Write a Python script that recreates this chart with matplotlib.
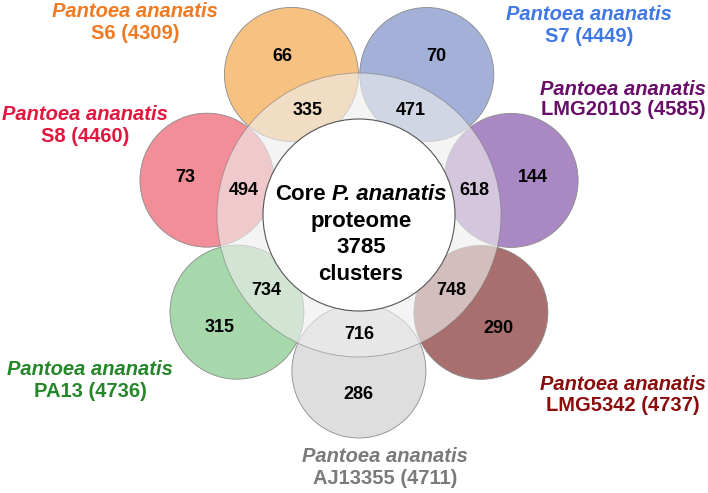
import numpy as np
import matplotlib
matplotlib.use("Agg")
import matplotlib.pyplot as plt
from matplotlib.patches import Circle

plt.rcParams['font.family'] = ['Liberation Sans', 'DejaVu Sans']

# strains, going round the flower clockwise from the left
strains    = ["S8", "S6", "S7", "LMG20103", "LMG5342", "AJ13355", "PA13"]
totals     = [4460, 4309, 4449, 4585, 4737, 4711, 4736]
unique     = [73, 66, 70, 144, 290, 286, 315]
shared     = [494, 335, 471, 618, 748, 716, 734]
core_count = 3785

petal_cols = ["#F28E97", "#F7C182", "#A3B1D8", "#AA88C4", "#A96E6E", "#DEDEDE", "#A6D8AB"]
label_cols = ["#E3173E", "#F07A22", "#3F78E6", "#6A0C6A", "#8A0D0D", "#7A7A7A", "#26862A"]

# label placement (x centre, baseline of first line, baseline of second line)
label_pos = [(85, 120, 142), (135, 17, 39), (589, 20, 42), (623, 95, 115),
             (623, 390, 411), (385, 462, 484), (90, 375, 397)]

cx, cy = 359, 215
ring_d = 156
petal_r = 67
angles = 167.1 - np.arange(7) * 360.0 / 7

fig = plt.figure(figsize=(7.08, 4.93), dpi=100)
ax = fig.add_axes([0, 0, 1, 1])
ax.set_xlim(0, 708)
ax.set_ylim(493, 0)
ax.set_aspect('equal')
ax.axis('off')

for i, a in enumerate(angles):
	rad = np.deg2rad(a)
	px = cx + ring_d * np.cos(rad)
	py = cy - ring_d * np.sin(rad)
	ax.add_patch(Circle((px, py), petal_r, facecolor=petal_cols[i], edgecolor="#8a8a8a", lw=0.6, zorder=1))

# outer ring washes out the petals, inner white core on top
ax.add_patch(Circle((cx, cy), 142, facecolor="#EEEEEE", alpha=0.62, edgecolor="#777777", lw=0.6, zorder=2))
ax.add_patch(Circle((cx, cy), 96, facecolor="white", edgecolor="#555555", lw=0.8, zorder=3))

num_fs = 13
cap = num_fs * 100 / 72 * 0.716
for i, a in enumerate(angles):
	rad = np.deg2rad(a)
	for dist, val in ((178, unique[i]), (118, shared[i])):
		tx = cx + dist * np.cos(rad)
		ty = cy - dist * np.sin(rad)
		ax.text(tx, ty + cap / 2, str(val), ha='center', va='baseline', fontsize=num_fs,
				fontweight='bold', color='black', zorder=5)

lab_fs = 14.5
for i, s in enumerate(strains):
	x, y1, y2 = label_pos[i]
	ax.text(x, y1, "Pantoea ananatis", ha='center', va='baseline', fontsize=lab_fs,
			fontweight='bold', fontstyle='italic', color=label_cols[i], zorder=5)
	ax.text(x, y2, s + " (" + str(totals[i]) + ")", ha='center', va='baseline', fontsize=lab_fs,
			fontweight='bold', color=label_cols[i], zorder=5)

# centre text, first line mixes upright and italic
core_fs = 16
fig.canvas.draw()
rend = fig.canvas.get_renderer()
t_core = ax.text(0, 200, "Core", ha='left', va='baseline', fontsize=core_fs, fontweight='bold', zorder=6)
t_pa = ax.text(0, 200, "P. ananatis", ha='left', va='baseline', fontsize=core_fs, fontweight='bold',
			   fontstyle='italic', zorder=6)
w_core = t_core.get_window_extent(rend).width
w_pa = t_pa.get_window_extent(rend).width
space = 0.278 * core_fs * 100 / 72
x0 = 361 - (w_core + space + w_pa) / 2
t_core.set_x(x0)
t_pa.set_x(x0 + w_core + space)

for y, line in zip([226.5, 253, 279.5], ["proteome", str(core_count), "clusters"]):
	ax.text(361, y, line, ha='center', va='baseline', fontsize=core_fs, fontweight='bold', zorder=6)

fig.savefig("out.png", dpi=100)
